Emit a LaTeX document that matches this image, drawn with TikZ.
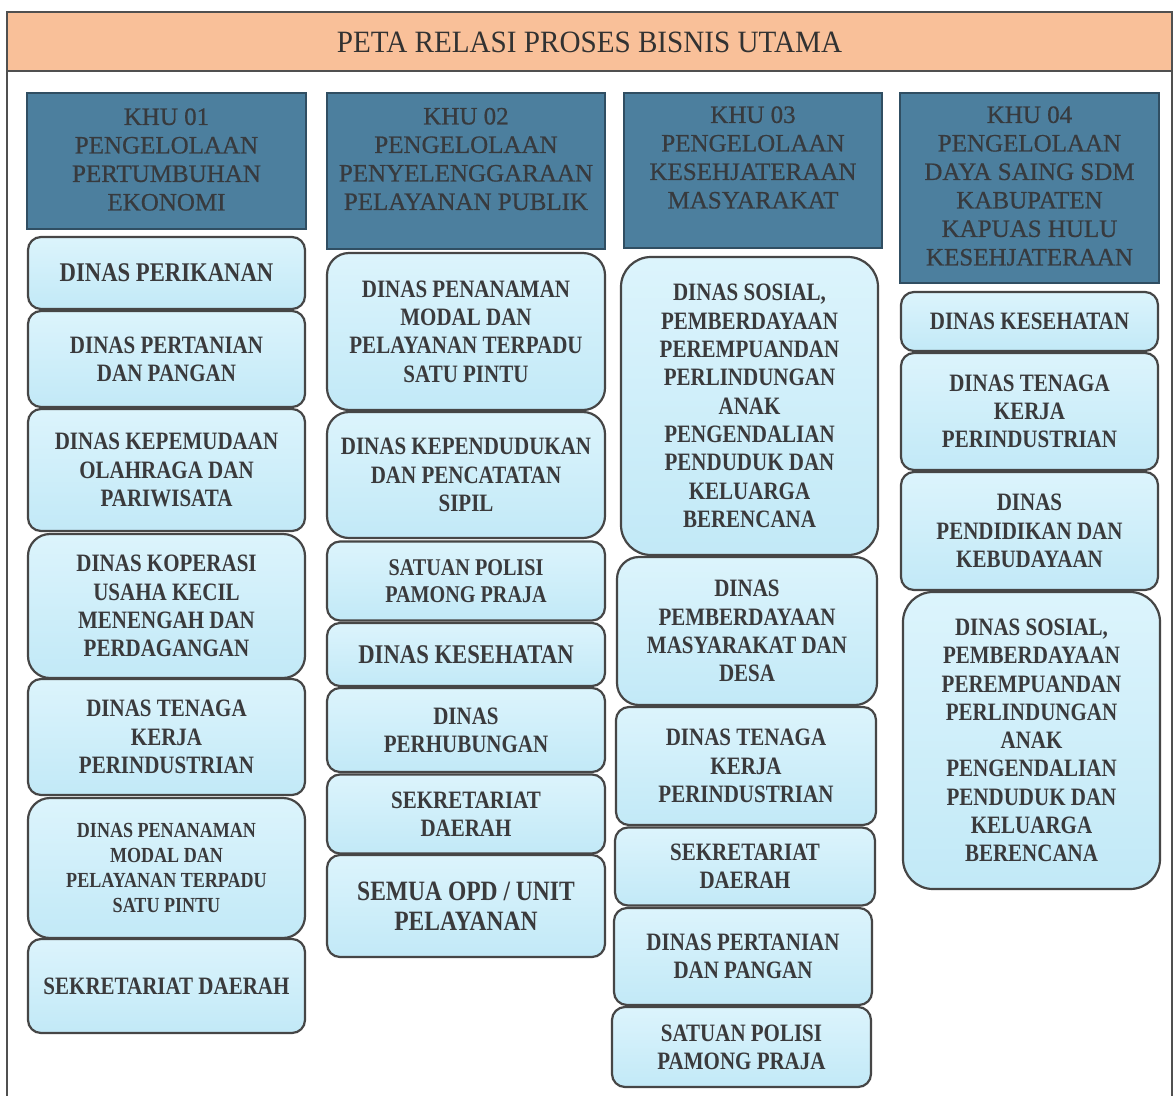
\documentclass[tikz,border=0pt]{standalone}
\usepackage{fontspec}
\setmainfont{Liberation Serif}
\newfontfamily\boxfont[FakeStretch=0.84]{Liberation Serif}
\newfontfamily\titlefont[FakeStretch=0.94]{Liberation Serif}
\newfontfamily\hdrfont[FakeBold=0.6]{Liberation Serif}
\newcommand\fntnorm{\boxfont\bfseries\fontsize{25}{28.3}\selectfont}
\newcommand\fntbig{\boxfont\bfseries\fontsize{27}{30}\selectfont}
\newcommand\fntxl{\boxfont\bfseries\fontsize{28}{30}\selectfont}
\newcommand\fntsmall{\boxfont\bfseries\fontsize{21.5}{25}\selectfont}
\definecolor{titlebg}{RGB}{249,192,153}
\definecolor{titlefg}{RGB}{50,50,50}
\definecolor{framecol}{RGB}{80,80,80}
\definecolor{hdrfill}{RGB}{76,127,158}
\definecolor{hdrline}{RGB}{48,78,98}
\definecolor{hdrtext}{RGB}{55,58,62}
\definecolor{boxtop}{RGB}{220,244,252}
\definecolor{boxbot}{RGB}{194,233,247}
\definecolor{boxline}{RGB}{70,70,70}
\definecolor{boxtext}{RGB}{58,58,60}
\begin{document}
\begin{tikzpicture}[x=1pt,y=-1pt,
  box/.style={draw=boxline, line width=2.2pt, rounded corners=13pt,
    top color=boxtop, bottom color=boxbot, align=center, inner sep=0pt,
    font=\fntnorm, text=boxtext},
  medbox/.style={box, rounded corners=22pt},
  bigbox/.style={box, rounded corners=30pt},
  hdr/.style={draw=hdrline, line width=1.2pt, fill=hdrfill, inner sep=0pt},
  hdrtxt/.style={align=center, inner sep=0pt, text=hdrtext,
    font=\hdrfont\fontsize{25}{28.5}\selectfont},
  titlebar/.style={draw=framecol, line width=1.3pt, fill=titlebg, inner sep=0pt},
  titletxt/.style={inner sep=0pt, text=titlefg, font=\titlefont\fontsize{31}{34}\selectfont}
]
\useasboundingbox (0,0) rectangle (1175,1095);
\fill[white] (0,0) rectangle (1175,1095);
% outer frame
\draw[framecol, line width=1.3pt] (7,1110) -- (7,12) -- (1172,12) -- (1172,1110);
% title
\node[titlebar, minimum width=1165pt, minimum height=59pt] (title) at (589.5,41.5) {};
\node[titletxt] (titletext) at (589.5,42) {PETA RELASI PROSES BISNIS UTAMA};

% headers
\node[hdr, minimum width=279pt, minimum height=136pt] (h1) at (166.5,161) {};
\node[hdrtxt] (h1t) at (166.5,159.5) {KHU 01\\PENGELOLAAN\\PERTUMBUHAN\\EKONOMI};
\node[hdr, minimum width=278pt, minimum height=156pt] (h2) at (466,171) {};
\node[hdrtxt] (h2t) at (466,159) {KHU 02\\PENGELOLAAN\\PENYELENGGARAAN\\PELAYANAN PUBLIK};
\node[hdr, minimum width=258pt, minimum height=155pt] (h3) at (753,170.5) {};
\node[hdrtxt] (h3t) at (753,157.5) {KHU 03\\PENGELOLAAN\\KESEHJATERAAN\\MASYARAKAT};
\node[hdr, minimum width=259pt, minimum height=190pt] (h4) at (1029.5,188) {};
\node[hdrtxt] (h4t) at (1029.5,186) {KHU 04\\PENGELOLAAN\\DAYA SAING SDM\\KABUPATEN\\KAPUAS HULU\\KESEHJATERAAN};

% column 1
\node[box, minimum width=277pt, minimum height=72pt, font=\fntbig] (c1a) at (166.5,273) {DINAS PERIKANAN};
\node[box, minimum width=277pt, minimum height=96pt] (c1b) at (166.5,359) {DINAS PERTANIAN\\DAN PANGAN};
\node[box, minimum width=277pt, minimum height=122pt] (c1c) at (166.5,470) {DINAS KEPEMUDAAN\\OLAHRAGA DAN\\PARIWISATA};
\node[medbox, minimum width=277pt, minimum height=144pt] (c1d) at (166.5,606) {DINAS KOPERASI\\USAHA KECIL\\MENENGAH DAN\\PERDAGANGAN};
\node[box, minimum width=277pt, minimum height=116pt] (c1e) at (166.5,737) {DINAS TENAGA\\KERJA\\PERINDUSTRIAN};
\node[medbox, minimum width=277pt, minimum height=140pt, font=\fntsmall] (c1f) at (166.5,868) {DINAS PENANAMAN\\MODAL DAN\\PELAYANAN TERPADU\\SATU PINTU};
\node[box, minimum width=277pt, minimum height=94pt] (c1g) at (166.5,986) {SEKRETARIAT DAERAH};

% column 2
\node[medbox, minimum width=278pt, minimum height=157pt] (c2a) at (466,331.5) {DINAS PENANAMAN\\MODAL DAN\\PELAYANAN TERPADU\\SATU PINTU};
\node[medbox, minimum width=278pt, minimum height=126pt] (c2b) at (466,475) {DINAS KEPENDUDUKAN\\DAN PENCATATAN\\SIPIL};
\node[box, minimum width=278pt, minimum height=79pt, font=\boxfont\bfseries\fontsize{24}{27}\selectfont] (c2c) at (466,581) {SATUAN POLISI\\PAMONG PRAJA};
\node[box, minimum width=278pt, minimum height=63pt, font=\fntbig] (c2d) at (466,654.5) {DINAS KESEHATAN};
\node[box, minimum width=278pt, minimum height=84pt] (c2e) at (466,730) {DINAS\\PERHUBUNGAN};
\node[box, minimum width=278pt, minimum height=79pt] (c2f) at (466,814) {SEKRETARIAT\\DAERAH};
\node[box, minimum width=278pt, minimum height=102pt, font=\fntxl] (c2g) at (466,906) {SEMUA OPD / UNIT\\PELAYANAN};

% column 3
\node[bigbox, minimum width=257pt, minimum height=298pt] (c3a) at (749.5,406) {DINAS SOSIAL,\\PEMBERDAYAAN\\PEREMPUANDAN\\PERLINDUNGAN\\ANAK\\PENGENDALIAN\\PENDUDUK DAN\\KELUARGA\\BERENCANA};
\node[medbox, minimum width=260pt, minimum height=148pt] (c3b) at (747,631) {DINAS\\PEMBERDAYAAN\\MASYARAKAT DAN\\DESA};
\node[box, minimum width=260pt, minimum height=118pt] (c3c) at (746,766) {DINAS TENAGA\\KERJA\\PERINDUSTRIAN};
\node[box, minimum width=260pt, minimum height=78pt] (c3d) at (745,866.5) {SEKRETARIAT\\DAERAH};
\node[box, minimum width=258pt, minimum height=97pt] (c3e) at (743,956.5) {DINAS PERTANIAN\\DAN PANGAN};
\node[box, minimum width=259pt, minimum height=80pt] (c3f) at (741.5,1047) {SATUAN POLISI\\PAMONG PRAJA};

% column 4
\node[box, minimum width=257pt, minimum height=59pt] (c4a) at (1029.5,321.5) {DINAS KESEHATAN};
\node[box, minimum width=257pt, minimum height=117pt] (c4b) at (1029.5,411.5) {DINAS TENAGA\\KERJA\\PERINDUSTRIAN};
\node[box, minimum width=257pt, minimum height=118pt] (c4c) at (1029.5,531) {DINAS\\PENDIDIKAN DAN\\KEBUDAYAAN};
\node[bigbox, minimum width=257pt, minimum height=297pt] (c4d) at (1031.5,740.5) {DINAS SOSIAL,\\PEMBERDAYAAN\\PEREMPUANDAN\\PERLINDUNGAN\\ANAK\\PENGENDALIAN\\PENDUDUK DAN\\KELUARGA\\BERENCANA};
\end{tikzpicture}
\end{document}
